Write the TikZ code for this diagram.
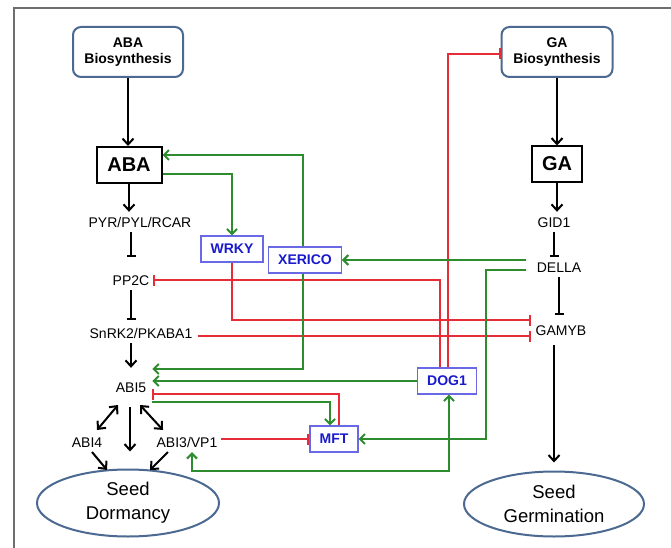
\documentclass[tikz,border=0pt]{standalone}
\usepackage{fontspec}
\setmainfont{Liberation Sans}
\usetikzlibrary{arrows.meta,calc,shapes.geometric}
\definecolor{grn}{RGB}{45,140,45}
\definecolor{rd}{RGB}{230,45,55}
\definecolor{bxblue}{RGB}{105,105,230}
\definecolor{txblue}{RGB}{25,25,205}
\definecolor{bioedge}{RGB}{75,105,145}
\definecolor{framegray}{RGB}{110,110,110}
\tikzset{
 lbl/.style={inner xsep=2pt, inner ysep=5pt, text height=10pt, text depth=0pt, font=\fontsize{14}{16}\selectfont},
 biobox/.style={draw=bioedge, line width=2pt, rounded corners=8pt, minimum width=110pt, minimum height=50pt, align=center, font=\fontsize{14}{16}\selectfont\bfseries, inner sep=0pt},
 hbox/.style={draw=black, line width=2pt, font=\fontsize{20}{22}\selectfont\bfseries, inner sep=0pt},
 tfbox/.style={draw=bxblue, line width=1.3pt, text=txblue, font=\fontsize{14}{16}\selectfont\bfseries, minimum height=26pt, inner xsep=9.5pt, inner ysep=0pt},
 outc/.style={ellipse, draw=bioedge, line width=2pt, align=center, font=\fontsize{18.5}{24}\selectfont, inner sep=0pt},
 blk/.style={line width=2pt, -{Straight Barb[length=6pt,width=11pt]}},
 blkboth/.style={line width=2pt, {Straight Barb[length=6pt,width=11pt]}-{Straight Barb[length=6pt,width=11pt]}},
 inhb/.style={line width=2pt, -{Bar[width=9pt]}},
 grnarr/.style={draw=grn, line width=2pt, -{Straight Barb[length=5pt,width=10pt]}},
 grnboth/.style={draw=grn, line width=2pt, {Straight Barb[length=5pt,width=10pt]}-{Straight Barb[length=5pt,width=10pt]}},
 redinh/.style={draw=rd, line width=2pt, -{Bar[width=11pt]}},
}
\begin{document}
\begin{tikzpicture}[x=1pt,y=-1pt]
\useasboundingbox (0,0) rectangle (671,548);
\draw[framegray, line width=2.5pt] (14,549) -- (14,8) -- (672,8);

% ABA side
\node[biobox] (abab) at (128,52) {ABA\\Biosynthesis};
\node[hbox, minimum width=65pt, minimum height=36pt] (aba) at (129,165) {ABA};
\node[lbl] (pyr) at (140,222) {PYR/PYL/RCAR};
\node[lbl, inner xsep=4pt] (pp2c) at (131,280) {PP2C};
\node[lbl, inner xsep=5pt] (snrk) at (141,333) {SnRK2/PKABA1};
\node[lbl, inner xsep=6pt] (abi5) at (131,387) {ABI5};
\node[lbl] (abi4) at (87,442) {ABI4};
\node[lbl, inner xsep=3pt] (abi3) at (187,442) {ABI3/VP1};
\node[outc, minimum width=182pt, minimum height=67pt] (dorm) at (128,503) {Seed\\Dormancy};

% GA side
\node[biobox, minimum width=111pt] (gab) at (557,52) {GA\\Biosynthesis};
\node[hbox, minimum width=50pt, minimum height=35pt] (ga) at (557,164) {GA};
\node[lbl] (gid1) at (554,222) {GID1};
\node[lbl, inner xsep=3pt] (della) at (559,267) {DELLA};
\node[lbl, inner xsep=5pt] (gamyb) at (561,330) {GAMYB};
\node[outc, minimum width=180pt, minimum height=65pt] (germ) at (554,504) {Seed\\Germination};

% regulators
\node[tfbox] (wrky) at (232,249) {WRKY};
\node[tfbox] (xerico) at (305,260) {XERICO};
\node[tfbox] (dog1) at (447,381) {DOG1};
\node[tfbox] (mft) at (334,439) {MFT};

% black pathway
\draw[blk] (abab.south) -- (abab.south |- aba.north);
\draw[blk] (aba.south) -- (aba.south |- pyr.north);
\draw[inhb, shorten >=13pt] (pp2c.north |- pyr.south) -- (pp2c.north);
\draw[inhb, shorten >=3pt] (pp2c.south) -- (pp2c.south |- snrk.north);
\draw[blk, shorten >=9pt] (abi5.north |- snrk.south) -- (abi5.north);
\draw[blkboth] ($(abi5)+(-13,18)$) -- ($(abi4)+(10,-12)$);
\draw[blk] ($(abi5)+(-1,20)$) -- ($(dorm.north)+(2,-17)$);
\draw[blkboth] ($(abi5)+(9,18)$) -- ($(abi3)+(-24,-12)$);
\draw[blk] ($(abi4)+(5,10)$) -- ($(dorm)+(-21,-33)$);
\draw[blk] ($(abi3)+(-19,10)$) -- ($(dorm)+(22,-33)$);

\draw[blk] (gab.south) -- (gab.south |- ga.north);
\draw[blk] (ga.south) -- (ga.south |- gid1.north);
\draw[inhb] (gid1.south) -- (gid1.south |- della.north);
\draw[inhb, shorten >=5pt] (della.south) -- (della.south |- gamyb.north);
\draw[blk, shorten <=5pt, shorten >=8pt] (germ.north |- gamyb.south) -- (germ.north);

% red inhibitions
\draw[redinh] ([xshift=1pt]dog1.north) |- ([yshift=-2pt]gab.west);
\draw[redinh] ([xshift=-7pt]dog1.north) |- (pp2c.east);
\draw[redinh] (wrky.south) |- ([yshift=10pt]gamyb.west);
\coordinate (s1) at ([yshift=-3pt]snrk.east);
\draw[redinh] (s1) -- (s1 -| gamyb.west);
\draw[redinh] ([xshift=5pt]mft.north) |- ([yshift=-7pt]abi5.east);
\draw[redinh] ([yshift=3pt]abi3.east) -- (mft.west);

% green activations
\draw[grnarr] ([yshift=-9pt]aba.east) -| (wrky.north);
\draw[grnarr] ([xshift=-2pt]xerico.north) |- ([yshift=10pt]aba.east);
\draw[grnarr] ([xshift=-2pt]xerico.south) |- ([yshift=18pt]abi5.east);
\draw[grnarr] ($(della.west)+(-8,-7)$) -- (xerico.east);
\draw[grnarr] ($(della.west)+(-8,3)$) -- ++(-40,0) |- (mft.east);
\draw[grnarr] (dog1.west) -- (dog1.west -| abi5.east);
\draw[grnarr] ([yshift=-15pt]abi5.east) -| ([xshift=-4pt]mft.north);
\draw[grnboth] ([xshift=5pt]abi3.south) -- ++(0,19) -| ([xshift=2pt]dog1.south);
\end{tikzpicture}
\end{document}
